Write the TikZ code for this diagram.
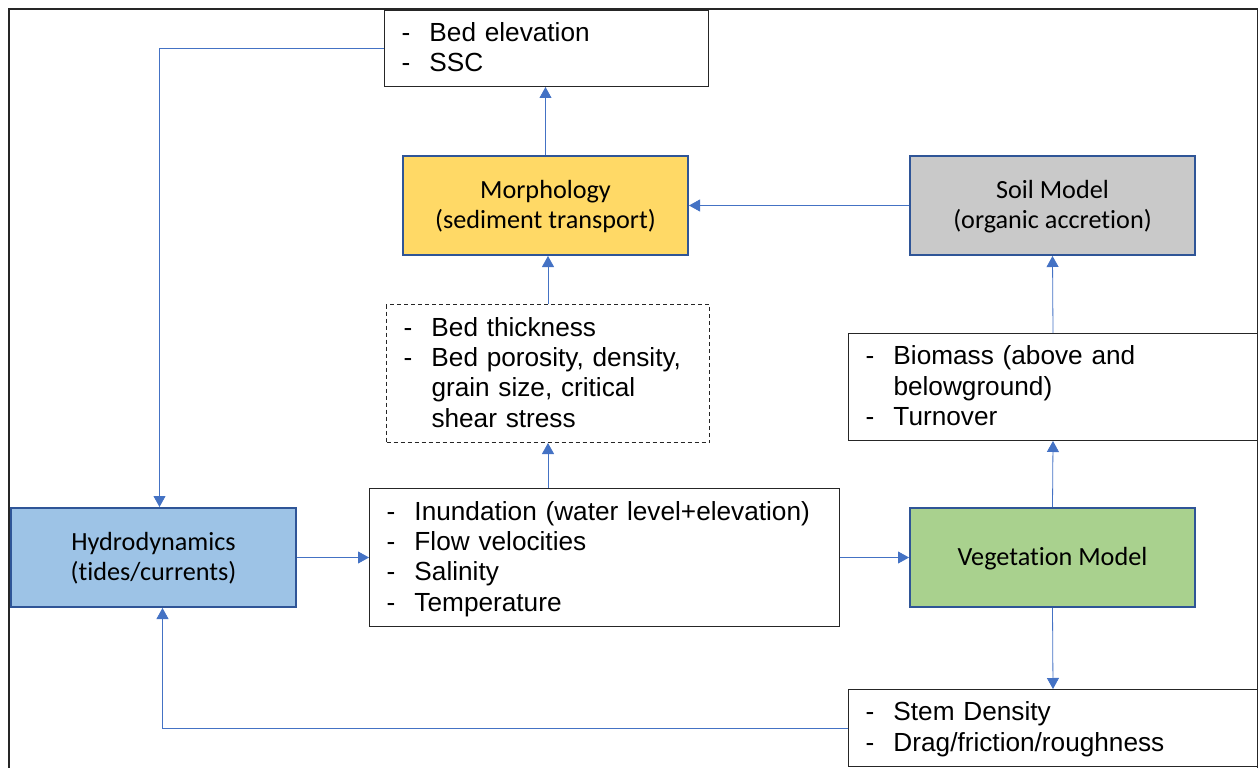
\documentclass[tikz,border=0pt]{standalone}
\usepackage{fontspec}
\setmainfont{Liberation Sans}
\newfontfamily\calfont[Ligatures = NoCommon]{Carlito}
\usetikzlibrary{arrows.meta}

\definecolor{edgeblue}{HTML}{2F5597}
\definecolor{linkblue}{HTML}{4472C4}
\definecolor{morphfill}{HTML}{FFD966}
\definecolor{soilfill}{HTML}{C9C9C9}
\definecolor{hydrofill}{HTML}{9DC3E6}
\definecolor{vegfill}{HTML}{A9D18E}

\newcommand{\bigtext}{\fontsize{26.2}{30.3}\selectfont}
\newcommand{\dashlist}[1]{\raisebox{-2pt}[\height][\depth]{\begin{tabular}{@{}p{28pt}@{}l@{}}#1\end{tabular}}}
\newcommand{\modeltext}[1]{\raisebox{-2pt}[\height][\depth]{\begin{tabular}{@{}c@{}}#1\end{tabular}}}

\begin{document}
\begin{tikzpicture}[%
    x = 1pt,
    y = -1pt,
    line width = 1pt,
    model/.style = {draw = edgeblue, line width = 2pt, minimum width = 285pt,
        minimum height = 99pt, font = \calfont\bigtext},
    list/.style = {draw = black!85, anchor = north west, inner xsep = 17pt,
        inner ysep = 0pt, font = \bigtext},
    link/.style = {draw = linkblue, line width = 0.8pt,
        -{Triangle[length = 11pt, width = 12pt]}}
]
        \useasboundingbox (0,0) rectangle (1259,768);

        % Outer frame, open at the bottom.
        \draw[line width = 1.5pt, black!85] (9,768) -- (9,9) -- (1257.5,9) -- (1257.5,768);

        % The four models.
        \node[model, fill = morphfill] at (545.5,205.5) (morph) {\modeltext{Morphology\\(sediment transport)}};
        \node[model, fill = soilfill] at (1052.5,205.5) (soil) {\modeltext{Soil Model\\(organic accretion)}};
        \node[model, fill = hydrofill] at (153.5,557.5) (hydro) {\modeltext{Hydrodynamics\\(tides/currents)}};
        \node[model, fill = vegfill] at (1052.5,557.5) (veg) {\modeltext{Vegetation Model}};

        % Quantities passed between the models.
        \node[list, text width = 290pt, minimum height = 76pt] at (384,10) (bedelev)
            {\dashlist{- & Bed elevation\\ - & SSC}};
        \node[list, dash pattern = on 4pt off 3pt, text width = 289pt, minimum height = 138pt] at (386,304) (bedprop)
            {\dashlist{- & Bed thickness\\ - & Bed porosity, density,\\ & grain size, critical\\ & shear stress}};
        \node[list, text width = 375pt, minimum height = 107pt] at (848,333) (biomass)
            {\dashlist{- & Biomass (above and\\ & belowground)\\ - & Turnover}};
        \node[list, text width = 436pt, minimum height = 138pt] at (369,488) (inund)
            {\dashlist{- & Inundation (water level+elevation)\\ - & Flow velocities\\ - & Salinity\\ - & Temperature}};
        \node[list, text width = 375pt, minimum height = 77pt] at (848,689) (stem)
            {\dashlist{- & Stem Density\\ - & Drag/friction/roughness}};

        % Connectors.
        \draw[link] (bedelev.west) -| ([xshift = 6pt]hydro.north);
        \draw[link] (morph.north) -- (morph.north |- bedelev.south);
        \draw[link] (soil.west) -- (morph.east);
        \draw[link] (bedprop.north) -- (bedprop.north |- morph.south);
        \draw[link] (inund.north -| bedprop.south) -- (bedprop.south);
        \draw[link] (hydro.east) -- (hydro.east -| inund.west);
        \draw[link] (inund.east) -- (inund.east -| veg.west);
        \draw[link] (veg.north) -- (biomass.south);
        \draw[link] (biomass.north) -- (soil.south);
        \draw[link] (veg.south) -- (stem.north);
        \draw[link] (stem.west) -| ([xshift = 9pt]hydro.south);
    \end{tikzpicture}
\end{document}
